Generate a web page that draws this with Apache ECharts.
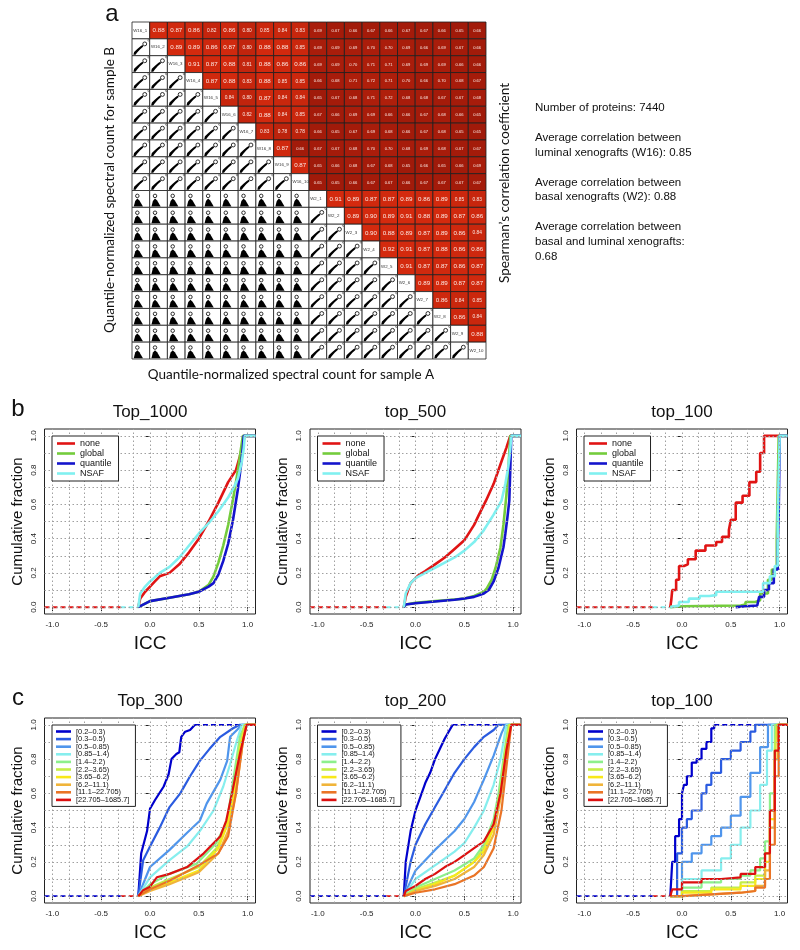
<!DOCTYPE html>
<html><head><meta charset="utf-8">
<script src="https://cdn.jsdelivr.net/npm/echarts@6/dist/echarts.min.js"></script>
<style>html,body{margin:0;padding:0;background:#fff}#c{width:800px;height:950px}</style>
</head><body><div id="c"></div>
<script>
// ---------- panel a data ----------
const sampleNames = ['W16_1','W16_2','W16_3','W16_4','W16_5','W16_6','W16_7','W16_8','W16_9','W16_10',
  'W2_1','W2_2','W2_3','W2_4','W2_5','W2_6','W2_7','W2_8','W2_9','W2_10'];
// row i: Spearman correlations with columns i+1 .. 19
const corrUpper = [
 [0.88,0.87,0.86,0.82,0.86,0.80,0.85,0.84,0.83,0.69,0.67,0.66,0.67,0.66,0.67,0.67,0.66,0.65,0.66],
 [0.89,0.89,0.86,0.87,0.80,0.88,0.88,0.85,0.69,0.69,0.69,0.70,0.70,0.69,0.66,0.69,0.67,0.66],
 [0.91,0.87,0.88,0.81,0.88,0.86,0.86,0.69,0.69,0.70,0.71,0.71,0.69,0.69,0.69,0.66,0.66],
 [0.87,0.88,0.83,0.88,0.85,0.85,0.66,0.68,0.71,0.72,0.71,0.70,0.66,0.70,0.68,0.67],
 [0.84,0.80,0.87,0.84,0.84,0.65,0.67,0.68,0.71,0.72,0.68,0.68,0.67,0.67,0.68],
 [0.82,0.88,0.84,0.85,0.67,0.66,0.69,0.69,0.66,0.66,0.67,0.68,0.66,0.65],
 [0.83,0.78,0.78,0.66,0.65,0.67,0.69,0.68,0.66,0.67,0.68,0.65,0.65],
 [0.87,0.66,0.67,0.67,0.68,0.70,0.70,0.68,0.69,0.68,0.67,0.67],
 [0.87,0.65,0.66,0.68,0.67,0.68,0.65,0.66,0.65,0.66,0.69],
 [0.65,0.65,0.66,0.67,0.67,0.66,0.67,0.67,0.67,0.67],
 [0.91,0.89,0.87,0.87,0.89,0.86,0.89,0.85,0.83],
 [0.89,0.90,0.89,0.91,0.88,0.89,0.87,0.86],
 [0.90,0.88,0.89,0.87,0.89,0.86,0.84],
 [0.92,0.91,0.87,0.88,0.86,0.86],
 [0.91,0.87,0.87,0.86,0.87],
 [0.89,0.89,0.87,0.87],
 [0.86,0.84,0.85],
 [0.86,0.84],
 [0.88],
 []
];
const infoLines = ['Number of proteins: 7440','Average correlation between','luminal xenografts (W16): 0.85',
  'Average correlation between','basal xenografts (W2): 0.88','Average correlation between',
  'basal and luminal xenografts:','0.68'];

// ---------- panel b data (ICC, cumulative fraction) ----------
const bNames = ['none','global','quantile','NSAF'];
const b1None    = [[-0.12,0],[-0.1,0.05],[-0.05,0.09],[0,0.12],[0.05,0.15],[0.1,0.18],[0.2,0.2],[0.3,0.25],[0.4,0.32],[0.5,0.4],[0.6,0.5],[0.7,0.61],[0.8,0.73],[0.88,0.8],[0.92,0.88],[0.95,0.95],[0.97,1]];
const b1Global  = [[-0.12,0],[-0.1,0.01],[0,0.035],[0.2,0.055],[0.4,0.075],[0.5,0.09],[0.6,0.13],[0.65,0.18],[0.7,0.26],[0.75,0.36],[0.8,0.48],[0.85,0.63],[0.9,0.8],[0.93,0.92],[0.95,1]];
const b1Quant   = [[-0.12,0],[-0.1,0.01],[0,0.035],[0.2,0.055],[0.4,0.075],[0.5,0.09],[0.6,0.12],[0.65,0.14],[0.7,0.19],[0.75,0.27],[0.8,0.37],[0.85,0.51],[0.9,0.69],[0.93,0.82],[0.95,0.93],[0.96,1]];
const b1NSAF    = [[-0.12,0],[-0.1,0.08],[-0.05,0.12],[0,0.15],[0.1,0.2],[0.2,0.235],[0.3,0.29],[0.4,0.36],[0.5,0.43],[0.6,0.49],[0.7,0.56],[0.8,0.64],[0.85,0.69],[0.9,0.75],[0.94,0.85],[0.96,0.93],[0.97,1]];
const b2None    = [[-0.12,0],[-0.1,0.06],[-0.05,0.14],[0,0.17],[0.04,0.19],[0.1,0.21],[0.2,0.25],[0.3,0.29],[0.4,0.34],[0.5,0.39],[0.6,0.48],[0.65,0.54],[0.72,0.62],[0.8,0.72],[0.88,0.85],[0.93,0.93],[0.97,1]];
const b2Global  = [[-0.12,0],[-0.1,0.015],[0,0.025],[0.2,0.035],[0.4,0.045],[0.5,0.05],[0.6,0.065],[0.7,0.09],[0.73,0.11],[0.78,0.16],[0.82,0.23],[0.87,0.35],[0.9,0.48],[0.93,0.65],[0.95,0.8],[0.97,1]];
const b2Quant   = [[-0.12,0],[-0.1,0.015],[0,0.023],[0.2,0.033],[0.4,0.043],[0.5,0.05],[0.6,0.06],[0.7,0.08],[0.75,0.1],[0.8,0.15],[0.85,0.23],[0.9,0.35],[0.92,0.43],[0.94,0.52],[0.96,0.62],[0.97,0.8],[0.98,1]];
const b2NSAF    = [[-0.12,0],[-0.1,0.08],[-0.05,0.14],[0,0.17],[0.1,0.2],[0.2,0.23],[0.3,0.26],[0.4,0.29],[0.5,0.33],[0.6,0.38],[0.7,0.45],[0.8,0.54],[0.88,0.62],[0.92,0.72],[0.95,0.82],[0.97,0.92],[0.98,1]];
const b3None    = [[-0.12,0],[-0.11,0.04],[-0.1,0.1],[-0.06,0.16],[-0.03,0.24],[0.02,0.25],[0.06,0.28],[0.14,0.33],[0.24,0.36],[0.35,0.38],[0.41,0.41],[0.48,0.45],[0.5,0.51],[0.55,0.61],[0.62,0.65],[0.69,0.73],[0.76,0.79],[0.8,0.9],[0.84,1]];
const b3Global  = [[-0.12,0],[-0.1,0.005],[0,0.01],[0.6,0.015],[0.65,0.03],[0.75,0.04],[0.8,0.08],[0.88,0.16],[0.92,0.22],[0.97,0.41],[0.99,1]];
const b3Quant   = [[0.55,0],[0.56,0.005],[0.65,0.01],[0.77,0.02],[0.79,0.06],[0.84,0.1],[0.89,0.14],[0.94,0.22],[0.98,0.35],[0.99,0.55],[1.0,1]];
const b3NSAF    = [[-0.12,0],[-0.11,0.01],[-0.03,0.03],[0.07,0.05],[0.18,0.065],[0.28,0.07],[0.35,0.09],[0.69,0.09],[0.83,0.14],[0.9,0.18],[0.95,0.24],[0.98,0.53],[1.0,1]];

// ---------- panel c data ----------
const cNames = ['[0.2\u20130.3)','[0.3\u20130.5)','[0.5\u20130.85)','[0.85\u20131.4)','[1.4\u20132.2)','[2.2\u20133.65)',
  '[3.65\u20136.2)','[6.2\u201311.1)','[11.1\u201322.705)','[22.705\u20131685.7]'];
const c1Data = [
 [[-0.12,0],[-0.09,0.25],[-0.03,0.38],[0,0.51],[0.05,0.56],[0.14,0.64],[0.19,0.71],[0.22,0.8],[0.27,0.83],[0.3,0.84],[0.32,0.93],[0.36,0.96],[0.41,0.97],[0.46,1]],
 [[-0.12,0],[-0.07,0.21],[0,0.29],[0.1,0.4],[0.2,0.52],[0.31,0.6],[0.41,0.7],[0.51,0.79],[0.61,0.86],[0.72,0.93],[0.85,0.98],[0.92,1]],
 [[-0.12,0],[0,0.17],[0.2,0.27],[0.38,0.37],[0.51,0.44],[0.58,0.54],[0.72,0.68],[0.79,0.79],[0.82,0.93],[0.89,0.97],[0.94,1]],
 [[-0.12,0],[0,0.11],[0.2,0.21],[0.38,0.29],[0.51,0.38],[0.65,0.5],[0.75,0.64],[0.82,0.77],[0.89,0.91],[0.94,1]],
 [[-0.12,0],[0,0.07],[0.2,0.13],[0.48,0.19],[0.68,0.31],[0.79,0.44],[0.85,0.67],[0.92,0.93],[0.97,1]],
 [[-0.12,0],[0,0.05],[0.2,0.1],[0.5,0.17],[0.68,0.28],[0.78,0.4],[0.85,0.6],[0.92,0.88],[0.97,1]],
 [[-0.12,0],[0,0.04],[0.2,0.08],[0.5,0.15],[0.7,0.28],[0.8,0.43],[0.87,0.62],[0.93,0.88],[0.98,1]],
 [[-0.12,0],[0,0.03],[0.2,0.07],[0.5,0.14],[0.7,0.25],[0.8,0.38],[0.88,0.6],[0.95,0.9],[0.98,1]],
 [[-0.12,0],[0,0.04],[0.2,0.09],[0.5,0.18],[0.7,0.25],[0.8,0.35],[0.88,0.6],[0.95,0.9],[0.99,1]],
 [[-0.12,0],[-0.07,0.035],[0,0.055],[0.07,0.11],[0.2,0.13],[0.38,0.17],[0.55,0.25],[0.72,0.35],[0.78,0.44],[0.85,0.63],[0.92,0.83],[0.99,1]]
];
const c2Data = [
 [[-0.12,0],[-0.1,0.2],[-0.05,0.38],[0,0.5],[0.05,0.58],[0.1,0.66],[0.15,0.72],[0.2,0.8],[0.25,0.86],[0.3,0.92],[0.35,0.97],[0.38,1]],
 [[-0.12,0],[-0.05,0.2],[0,0.3],[0.1,0.42],[0.2,0.52],[0.3,0.62],[0.4,0.72],[0.5,0.8],[0.6,0.87],[0.7,0.93],[0.8,0.97],[0.85,1]],
 [[-0.12,0],[0,0.15],[0.2,0.27],[0.4,0.38],[0.5,0.45],[0.6,0.55],[0.7,0.68],[0.8,0.82],[0.88,0.95],[0.92,1]],
 [[-0.12,0],[0,0.1],[0.2,0.18],[0.4,0.26],[0.5,0.31],[0.6,0.4],[0.7,0.5],[0.8,0.65],[0.87,0.8],[0.93,1]],
 [[-0.12,0],[0,0.05],[0.2,0.1],[0.4,0.15],[0.6,0.22],[0.7,0.3],[0.8,0.45],[0.85,0.6],[0.9,0.8],[0.95,1]],
 [[-0.12,0],[0,0.04],[0.2,0.08],[0.4,0.12],[0.6,0.2],[0.7,0.28],[0.8,0.42],[0.87,0.62],[0.92,0.85],[0.96,1]],
 [[-0.12,0],[0,0.03],[0.2,0.07],[0.4,0.12],[0.6,0.2],[0.7,0.26],[0.8,0.4],[0.87,0.6],[0.93,0.85],[0.97,1]],
 [[-0.12,0],[0,0.03],[0.2,0.06],[0.4,0.1],[0.6,0.17],[0.7,0.24],[0.8,0.36],[0.88,0.6],[0.94,0.88],[0.98,1]],
 [[-0.12,0],[0,0.02],[0.2,0.04],[0.4,0.07],[0.6,0.12],[0.7,0.17],[0.8,0.28],[0.88,0.5],[0.94,0.8],[0.98,1]],
 [[-0.12,0],[-0.1,0.03],[0,0.06],[0.1,0.1],[0.2,0.13],[0.3,0.17],[0.4,0.2],[0.5,0.24],[0.6,0.28],[0.7,0.32],[0.8,0.42],[0.87,0.6],[0.93,0.85],[0.98,1]]
];
const c3Data = [
 [[-0.12,0],[-0.1,0.2],[-0.07,0.35],[-0.03,0.45],[0,0.6],[0.02,0.65],[0.05,0.7],[0.1,0.78],[0.15,0.8],[0.2,0.86],[0.25,0.9],[0.3,0.98],[0.33,1]],
 [[-0.12,0],[-0.05,0.25],[0,0.4],[0.05,0.45],[0.1,0.5],[0.2,0.6],[0.25,0.65],[0.3,0.72],[0.4,0.8],[0.5,0.85],[0.6,0.9],[0.7,0.96],[0.75,1]],
 [[-0.12,0],[0,0.2],[0.1,0.25],[0.2,0.3],[0.3,0.35],[0.4,0.4],[0.5,0.47],[0.6,0.58],[0.7,0.72],[0.8,0.87],[0.88,1]],
 [[-0.12,0],[0,0.1],[0.2,0.15],[0.4,0.22],[0.5,0.3],[0.6,0.4],[0.7,0.5],[0.8,0.65],[0.87,0.85],[0.92,1]],
 [[-0.12,0],[0,0.05],[0.2,0.08],[0.4,0.1],[0.6,0.12],[0.7,0.15],[0.8,0.22],[0.85,0.32],[0.9,0.6],[0.95,1]],
 [[-0.12,0],[0,0.03],[0.3,0.05],[0.6,0.08],[0.75,0.12],[0.85,0.25],[0.9,0.5],[0.95,0.85],[0.97,1]],
 [[-0.12,0],[0,0.02],[0.3,0.04],[0.6,0.06],[0.75,0.1],[0.85,0.2],[0.9,0.45],[0.95,0.8],[0.98,1]],
 [[-0.12,0],[0,0.01],[0.3,0.02],[0.6,0.03],[0.75,0.06],[0.85,0.15],[0.9,0.4],[0.95,0.8],[0.98,1]],
 [[-0.12,0],[0,0.01],[0.3,0.02],[0.6,0.03],[0.75,0.05],[0.85,0.1],[0.9,0.3],[0.95,0.7],[0.99,1]],
 [[-0.12,0],[-0.1,0.04],[0,0.08],[0.2,0.1],[0.4,0.11],[0.6,0.13],[0.75,0.17],[0.85,0.25],[0.9,0.5],[0.95,0.85],[0.99,1]]
];

// ---------- axes / ticks ----------
const X_MIN = -1.08, X_MAX = 1.08, Y_MIN = -0.04, Y_MAX = 1.04;
const xTicks = [-1, -0.5, 0, 0.5, 1];
const yTicks = [0, 0.2, 0.4, 0.6, 0.8, 1];
const gridLinesX = [-1,-0.8333,-0.6667,-0.5,-0.3333,-0.1667,0,0.1667,0.3333,0.5,0.6667,0.8333,1];
const gridLinesY = [0,0.1,0.2,0.3,0.4,0.5,0.6,0.7,0.8,0.9,1];
const tailBreak = -0.3;   // left dashed tail changes colour here

// ---------- styles ----------
const bColors = ['#e01414','#74cc3c','#1414cc','#80f0f0'];
const cColors = ['#0000cc','#2a5be0','#4f95ec','#86eeee','#8cf08c','#c4ee48','#f8e81a','#f0b43a','#ea7426','#dc1010'];
const SANS = '"Liberation Sans", Arial, sans-serif';
const CAL = 'Lato, "Open Sans", sans-serif';
const PW = 211, PH = 185;

const panels = [
 {left:44.5, top:429, title:'Top_1000', names:bNames, colors:bColors, data:[b1None,b1Global,b1Quant,b1NSAF], step:false, w:2.6, tail:[bColors[0], bColors[3]], topDash:false, kind:'b'},
 {left:310,  top:429, title:'top_500',  names:bNames, colors:bColors, data:[b2None,b2Global,b2Quant,b2NSAF], step:false, w:2.6, tail:[bColors[0], bColors[3]], topDash:false, kind:'b'},
 {left:576.5,top:429, title:'top_100',  names:bNames, colors:bColors, data:[b3None,b3Global,b3Quant,b3NSAF], step:'end', w:2.6, tail:[bColors[0], bColors[3]], topDash:false, kind:'b'},
 {left:44.5, top:718, title:'Top_300',  names:cNames, colors:cColors, data:c1Data, step:false, w:2.2, tail:[cColors[0], cColors[9]], topDash:true, kind:'c'},
 {left:310,  top:718, title:'top_200',  names:cNames, colors:cColors, data:c2Data, step:false, w:2.2, tail:[cColors[0], cColors[9]], topDash:true, kind:'c'},
 {left:576.5,top:718, title:'top_100',  names:cNames, colors:cColors, data:c3Data, step:'end', w:2.2, tail:[cColors[0], cColors[9]], topDash:true, kind:'c'}
];

// ---------- matrix cells ----------
const cells = [];
for (let r = 0; r < 20; r++) for (let c = 0; c < 20; c++) {
  if (r === c) cells.push([c, r, -1, 0]);
  else if (c > r) cells.push([c, r, corrUpper[r][c - r - 1], 1]);
  else cells.push([c, r, -1, (r >= 10 && c <= 9) ? 3 : 2]);
}
function cellColor(v) {
  let t = (v - 0.65) / (0.89 - 0.65); t = Math.max(0, Math.min(1, t));
  const a = [160, 26, 10], b = [212, 42, 14];
  return 'rgb(' + a.map((x, i) => Math.round(x + (b[i] - x) * t)).join(',') + ')';
}
function renderCell(params, api) {
  const c = api.value(0), r = api.value(1), v = api.value(2), t = api.value(3);
  const p = api.coord([c, r]); const s = api.size([1, 1]);
  const w = s[0], h = s[1], x0 = p[0] - w / 2, y0 = p[1] - h / 2;
  const ch = [{type:'rect', shape:{x:x0, y:y0, width:w, height:h},
    style:{fill: t === 1 ? cellColor(v) : '#fff', stroke:'#1e1e1e', lineWidth:0.8}}];
  if (t === 1) {
    const fs = v >= 0.86 ? 6.2 : (v >= 0.75 ? 4.8 : 4.1);
    ch.push({type:'text', style:{text:v.toFixed(2), x:p[0], y:p[1]+0.3, align:'center', verticalAlign:'middle',
      fill:'#fbe9e4', font: fs + 'px ' + SANS}});
  } else if (t === 0) {
    ch.push({type:'text', style:{text:sampleNames[r], x:x0 + 1.2, y:p[1], align:'left', verticalAlign:'middle',
      fill:'#333', font:'4.4px ' + SANS}});
  } else if (t === 2) {
    const pts = [[0.08,0.95],[0.12,0.78],[0.3,0.6],[0.5,0.42],[0.6,0.36],[0.64,0.45],[0.45,0.63],[0.28,0.83],[0.2,0.95]];
    ch.push({type:'polygon', shape:{points: pts.map(q => [x0 + q[0]*w, y0 + q[1]*h])}, style:{fill:'#000'}});
    ch.push({type:'circle', shape:{cx:x0 + 0.72*w, cy:y0 + 0.3*h, r:0.11*w}, style:{fill:'none', stroke:'#000', lineWidth:0.8}});
    ch.push({type:'circle', shape:{cx:x0 + 0.94*w, cy:y0 + 0.08*h, r:0.05*w}, style:{fill:'none', stroke:'#333', lineWidth:0.5}});
  } else {
    const pts = [[0.1,0.95],[0.18,0.62],[0.3,0.48],[0.42,0.6],[0.62,0.95]];
    ch.push({type:'polygon', shape:{points: pts.map(q => [x0 + q[0]*w, y0 + q[1]*h])}, style:{fill:'#000'}});
    ch.push({type:'circle', shape:{cx:x0 + 0.3*w, cy:y0 + 0.32*h, r:0.1*w}, style:{fill:'none', stroke:'#000', lineWidth:0.8}});
  }
  return {type:'group', children: ch};
}

// ---------- build option ----------
const grids = [{left:132, top:22, width:354, height:337, show:false}];
const xAxes = [{type:'category', gridIndex:0, data:sampleNames, show:false}];
const yAxes = [{type:'category', gridIndex:0, data:sampleNames, inverse:true, show:false}];
const series = [{type:'custom', xAxisIndex:0, yAxisIndex:0, renderItem:renderCell, data:cells, animation:false, silent:true}];
const legends = [];
const graphics = [];

function txt(text, x, y, font, opts) {
  return Object.assign({type:'text', x:x, y:y, silent:true,
    style:{text:text, font:font, fill:'#111', align:'center', verticalAlign:'middle'}}, opts || {});
}

panels.forEach((p, k) => {
  const gi = k + 1;
  grids.push({left:p.left, top:p.top, width:PW, height:PH, show:true, borderColor:'#222', borderWidth:1, backgroundColor:'transparent'});
  xAxes.push({type:'value', gridIndex:gi, min:X_MIN, max:X_MAX, axisLine:{show:false}, splitLine:{show:false},
    axisTick:{show:true, customValues:xTicks, length:4, lineStyle:{color:'#222'}},
    axisLabel:{customValues:xTicks, formatter:v => v.toFixed(1), fontSize:8, fontFamily:SANS, color:'#222', margin:7}});
  yAxes.push({type:'value', gridIndex:gi, min:Y_MIN, max:Y_MAX, axisLine:{show:false}, splitLine:{show:false},
    axisTick:{show:true, customValues:yTicks, length:4, lineStyle:{color:'#222'}},
    axisLabel:{customValues:yTicks, formatter:v => v.toFixed(1), fontSize:8, fontFamily:SANS, color:'#222', margin:7, rotate:90}});
  // dotted reference grid
  series.push({type:'line', xAxisIndex:gi, yAxisIndex:gi, data:[[X_MIN, Y_MIN]], symbol:'none', lineStyle:{opacity:0}, silent:true, z:1,
    markLine:{silent:true, symbol:['none','none'], label:{show:false}, animation:false,
      lineStyle:{color:'#a0a0a0', type:[1.5,2.5], width:1},
      data: gridLinesX.map(v => ({xAxis:v})).concat(gridLinesY.map(v => ({yAxis:v})))}});
  // left tails on y = 0
  const first = p.data[0][0][0];
  series.push({type:'line', xAxisIndex:gi, yAxisIndex:gi, data:[[X_MIN,0],[tailBreak,0]], symbol:'none', silent:true, z:3,
    lineStyle:{color:p.tail[0], width:p.w - 0.6, type:[5,3]}});
  series.push({type:'line', xAxisIndex:gi, yAxisIndex:gi, data:[[tailBreak,0],[-0.12,0]], symbol:'none', silent:true, z:3,
    lineStyle:{color:p.tail[1], width:p.w - 0.6, type:[5,3]}});
  // curves
  p.data.forEach((d, i) => {
    const last = d[d.length - 1];
    const dashTop = p.topDash && i === 0;
    if (dashTop) {
      series.push({type:'line', xAxisIndex:gi, yAxisIndex:gi, data:[last,[X_MAX,1]], symbol:'none', silent:true, z:2,
        lineStyle:{color:p.colors[i], width:p.w - 0.6, type:[5,3]}});
    }
    series.push({name:p.names[i], type:'line', xAxisIndex:gi, yAxisIndex:gi,
      data: dashTop ? d : d.concat([[X_MAX, 1]]), step:p.step, symbol:'none', showSymbol:false, z:3,
      color:p.colors[i], itemStyle:{color:p.colors[i]}, lineStyle:{color:p.colors[i], width:p.w}, animation:false});
  });
  // legend
  const isB = p.kind === 'b';
  legends.push({orient:'vertical', left:p.left + 7.5, top:p.top + 7, data:p.names, icon:'rect',
    itemWidth: isB ? 18 : 15, itemHeight:2.6, itemGap: isB ? 1 : 0.6, selectedMode:false,
    textStyle:{fontSize: isB ? 9 : 7.4, fontFamily:SANS, color:'#111'},
    borderColor:'#222', borderWidth:1, borderRadius:0, padding: isB ? [3,7,3,5] : [3,6,3,4], backgroundColor:'#fff', z:10});
  // titles / axis names
  const cx = p.left + PW / 2;
  graphics.push(txt(p.title, cx, p.top - 17, '17px ' + SANS));
  graphics.push(txt('ICC', cx, p.top + PH + 30, '19px ' + SANS));
  graphics.push(txt('Cumulative fraction', p.left - 27, p.top + PH / 2, '15px ' + SANS, {rotation: Math.PI / 2}));
});

// panel a text
graphics.push(txt('a', 112, 14, '24px ' + SANS));
graphics.push(txt('b', 18, 409, '24px ' + SANS));
graphics.push(txt('c', 18, 698, '24px ' + SANS));
graphics.push(txt('Quantile-normalized spectral count for sample B', 110, 190, '13.5px ' + CAL, {rotation: Math.PI / 2}));
graphics.push(txt('Quantile-normalized spectral count for sample A', 291, 375, '13.5px ' + CAL));
graphics.push(txt('Spearman\u2019s correlation coefficient', 505, 183, '13.5px ' + CAL, {rotation: Math.PI / 2}));
const infoY = [108, 138, 153, 183, 197, 227, 242, 257];
infoLines.forEach((s, i) => graphics.push(txt(s, 535, infoY[i], '11.5px ' + SANS, {style:{text:s, font:'11.5px ' + SANS, fill:'#111', align:'left', verticalAlign:'middle'}})));

const chart = echarts.init(document.getElementById('c'), null, {renderer:'canvas'});
chart.setOption({
  animation:false,
  backgroundColor:'#fff',
  textStyle:{fontFamily:SANS},
  grid:grids, xAxis:xAxes, yAxis:yAxes, series:series, legend:legends, graphic:graphics
});
</script></body></html>
